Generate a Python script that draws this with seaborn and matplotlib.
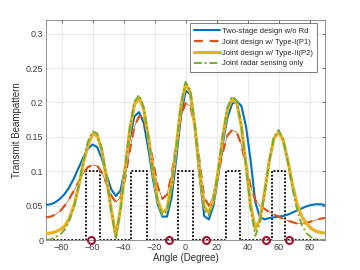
import matplotlib
matplotlib.use("Agg")
import matplotlib.pyplot as plt
import numpy as np
import pandas as pd
import seaborn as sns

# --- data ---
angles = list(range(-90, 91, 3))

two_stage = [0.051, 0.052, 0.055, 0.060, 0.067, 0.077, 0.090, 0.105, 0.120, 0.133,
             0.139, 0.135, 0.118, 0.095, 0.074, 0.064, 0.072, 0.105, 0.148, 0.180,
             0.186, 0.170, 0.132, 0.088, 0.052, 0.034, 0.034, 0.062, 0.118, 0.180,
             0.217, 0.212, 0.163, 0.093, 0.035, 0.030, 0.050, 0.092, 0.140, 0.178,
             0.198, 0.202, 0.195, 0.165, 0.115, 0.055, 0.033, 0.030, 0.032, 0.033,
             0.034, 0.035, 0.037, 0.040, 0.043, 0.046, 0.049, 0.051, 0.052, 0.052,
             0.051]

type1 = [0.033, 0.034, 0.037, 0.042, 0.050, 0.060, 0.072, 0.085, 0.097, 0.106,
         0.109, 0.108, 0.098, 0.082, 0.065, 0.055, 0.062, 0.090, 0.130, 0.165,
         0.180, 0.178, 0.150, 0.115, 0.078, 0.060, 0.066, 0.095, 0.140, 0.180,
         0.199, 0.195, 0.165, 0.115, 0.062, 0.050, 0.064, 0.095, 0.128, 0.152,
         0.160, 0.157, 0.138, 0.108, 0.078, 0.058, 0.050, 0.045, 0.041, 0.037,
         0.034, 0.031, 0.028, 0.026, 0.024, 0.024, 0.025, 0.027, 0.029, 0.031,
         0.032]

type2 = [0.010, 0.010, 0.012, 0.015, 0.020, 0.032, 0.050, 0.078, 0.112, 0.138,
         0.154, 0.152, 0.130, 0.090, 0.045, 0.006, 0.045, 0.105, 0.160, 0.197,
         0.207, 0.190, 0.150, 0.100, 0.058, 0.040, 0.045, 0.080, 0.135, 0.195,
         0.227, 0.215, 0.165, 0.100, 0.048, 0.040, 0.058, 0.100, 0.150, 0.190,
         0.205, 0.200, 0.165, 0.110, 0.050, 0.016, 0.030, 0.070, 0.115, 0.148,
         0.157, 0.145, 0.115, 0.080, 0.052, 0.034, 0.024, 0.017, 0.013, 0.011,
         0.010]

radar_only = [0.000, 0.001, 0.004, 0.008, 0.015, 0.028, 0.048, 0.078, 0.114, 0.143,
              0.158, 0.155, 0.132, 0.090, 0.042, 0.003, 0.043, 0.105, 0.163, 0.201,
              0.211, 0.193, 0.150, 0.098, 0.055, 0.036, 0.042, 0.078, 0.135, 0.197,
              0.230, 0.218, 0.167, 0.100, 0.044, 0.036, 0.056, 0.100, 0.152, 0.193,
              0.209, 0.203, 0.166, 0.108, 0.045, 0.006, 0.025, 0.068, 0.115, 0.150,
              0.160, 0.146, 0.113, 0.075, 0.043, 0.022, 0.010, 0.004, 0.001, 0.000,
              0.000]

# desired beampattern sectors (level 0.1 inside)
sector_lo = [-64, -35, -5, 26, 56]
sector_hi = [-55, -25, 5, 35, 64]
sector_level = 0.1

# communication user directions
user_angles = [-61, -11, 13, 52, 67]

# --- build the step pattern from the sectors ---
desired_x = [-90]
desired_y = [0]
for lo, hi in zip(sector_lo, sector_hi):
    desired_x += [lo, lo, hi, hi]
    desired_y += [0, sector_level, sector_level, 0]
desired_x.append(90)
desired_y.append(0)

df = pd.DataFrame({"angle": angles, "two_stage": two_stage, "type1": type1,
                   "type2": type2, "radar": radar_only})

sns.set_theme(style="whitegrid")
plt.rcParams["font.family"] = ["Liberation Sans", "DejaVu Sans"]

fig = plt.figure(figsize=(3.6, 2.7), dpi=100)
ax = fig.add_axes([0.128, 0.111, 0.775, 0.815])
ax.set_facecolor("white")

ax.plot(desired_x, desired_y, color="black", linestyle=(0, (1, 1)), linewidth=1.3, zorder=2)

sns.lineplot(data=df, x="angle", y="two_stage", ax=ax, color="#0072BD", linewidth=1.5,
             label="Two-stage design w/o Rd", zorder=3)
sns.lineplot(data=df, x="angle", y="type1", ax=ax, color="#D95319", linewidth=1.6,
             linestyle=(0, (4, 3)), label="Joint design w/ Type-I(P1)", zorder=3)
sns.lineplot(data=df, x="angle", y="type1", ax=ax, color="#D95319", linewidth=0.5,
             label="_nolegend_", zorder=3)
sns.lineplot(data=df, x="angle", y="type2", ax=ax, color="#EDB120", linewidth=2.3,
             label="Joint design w/ Type-II(P2)", zorder=4)
sns.lineplot(data=df, x="angle", y="radar", ax=ax, color="#77AC30", linewidth=1.4,
             linestyle=(0, (4, 1.5, 1, 1.5)), label="Joint radar sensing only", zorder=5)

ax.plot(user_angles, [0] * len(user_angles), linestyle="none", marker="o", markersize=5,
        markerfacecolor="none", markeredgecolor="#A2142F", markeredgewidth=1.5,
        clip_on=False, zorder=6)

ax.set_xlim(-90, 90)
ax.set_ylim(0, 0.32)
ax.set_xticks(range(-80, 81, 20))
yt = [0, 0.05, 0.1, 0.15, 0.2, 0.25, 0.3]
ax.set_yticks(yt)
ax.set_yticklabels(["0", "0.05", "0.1", "0.15", "0.2", "0.25", "0.3"])
ax.tick_params(axis="both", which="both", direction="in", length=2.5, width=0.5,
               labelsize=6.5, labelcolor="#404040", colors="#404040",
               top=True, right=True, pad=2)
ax.set_xlabel("Angle (Degree)", fontsize=7, color="#303030", labelpad=1)
ax.set_ylabel("Transmit Beampattern", fontsize=7, color="#303030", labelpad=3)
ax.grid(True, color="#e6e6e6", linewidth=0.6)
for s in ax.spines.values():
    s.set_color("#808080")
    s.set_linewidth(0.6)

leg = ax.legend(loc="upper right", fontsize=5.5, frameon=True, fancybox=False,
                borderpad=0.55, handlelength=3.4, handletextpad=0.25, labelspacing=0.45,
                borderaxespad=0.45, bbox_to_anchor=(0.985, 1.0))
leg.get_frame().set_edgecolor("#404040")
leg.get_frame().set_linewidth(0.6)

fig.savefig("out.png", dpi=100)
